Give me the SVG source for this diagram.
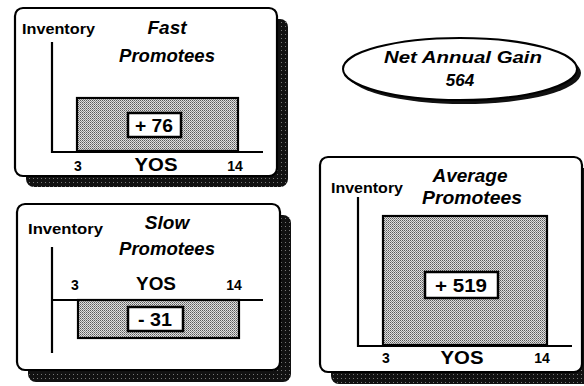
<svg xmlns="http://www.w3.org/2000/svg" width="584" height="386" viewBox="0 0 584 386">
<defs>
<pattern id="dots" width="2" height="2" patternUnits="userSpaceOnUse"><rect width="2" height="2" fill="#e0e0e0"/><rect width="1" height="1" fill="#5a5a5a"/><rect x="1" y="1" width="1" height="1" fill="#8a8a8a"/></pattern>
<pattern id="dark" width="4" height="4" patternUnits="userSpaceOnUse"><rect width="4" height="4" fill="#111"/><rect x="1" y="2" width="1" height="1" fill="#777"/></pattern>
</defs>
<style>
.frame{fill:#fff;stroke:#000;stroke-width:2.2}
.shadow{fill:url(#dark)}
.axis{stroke:#000;stroke-width:2.2;fill:none}
.bar{fill:url(#dots);stroke:#000;stroke-width:2.2}
.lbl{fill:#fff;stroke:#000;stroke-width:2.5}
text{font-family:"Liberation Sans",Arial,sans-serif;font-weight:bold;fill:#000}
.inv{font-size:15px}
.ttl{font-size:19px;font-style:italic;text-anchor:middle}
.num{font-size:14px;text-anchor:middle}
.yos{font-size:18px;text-anchor:middle}
.val{font-size:18px;text-anchor:middle}
</style>
<g id="fast">
<rect class="shadow" x="26" y="19" width="262" height="168" rx="8"/>
<rect class="frame" x="15" y="8" width="262" height="168" rx="8"/>
<text class="inv" x="22" y="34" textLength="73" lengthAdjust="spacingAndGlyphs">Inventory</text>
<text class="ttl" x="167" y="34">Fast</text>
<text class="ttl" x="167" y="62" textLength="96" lengthAdjust="spacingAndGlyphs">Promotees</text>
<rect class="bar" x="77" y="98" width="161" height="53"/>
<path class="axis" d="M52 42V152H263"/>
<rect class="lbl" x="128" y="113" width="53" height="24"/>
<text class="val" x="154" y="132" textLength="38" lengthAdjust="spacingAndGlyphs">+ 76</text>
<text class="num" x="78" y="171">3</text>
<text class="yos" x="156" y="171" textLength="43" lengthAdjust="spacingAndGlyphs">YOS</text>
<text class="num" x="235" y="171">14</text>
</g>
<g id="slow">
<rect class="shadow" x="28" y="215" width="263" height="167" rx="8"/>
<rect class="frame" x="17" y="204" width="263" height="166" rx="8"/>
<text class="inv" x="28" y="234" textLength="75" lengthAdjust="spacingAndGlyphs">Inventory</text>
<text class="ttl" x="167" y="229">Slow</text>
<text class="ttl" x="167" y="255" textLength="96" lengthAdjust="spacingAndGlyphs">Promotees</text>
<rect class="bar" x="78" y="300" width="161" height="38"/>
<path class="axis" d="M52 247V353M52 300H263"/>
<rect class="lbl" x="128" y="307" width="55" height="24"/>
<text class="val" x="155" y="326" textLength="34" lengthAdjust="spacingAndGlyphs">- 31</text>
<text class="num" x="75" y="290">3</text>
<text class="yos" x="156" y="290" textLength="40" lengthAdjust="spacingAndGlyphs">YOS</text>
<text class="num" x="234" y="290">14</text>
</g>
<g id="gain">
<ellipse cx="464" cy="73" rx="117" ry="31" fill="#111"/>
<ellipse cx="460" cy="69" rx="117" ry="31" fill="#fff" stroke="#000" stroke-width="2"/>
<text class="ttl" x="463" y="63" style="font-size:17px" textLength="158" lengthAdjust="spacingAndGlyphs">Net Annual Gain</text>
<text class="ttl" x="460" y="86" style="font-size:17px">564</text>
</g>
<g id="average">
<rect class="shadow" x="331" y="168" width="262" height="216" rx="8"/>
<rect class="frame" x="320" y="157" width="262" height="215" rx="8"/>
<text class="inv" x="331" y="193" textLength="72" lengthAdjust="spacingAndGlyphs">Inventory</text>
<text class="ttl" x="470" y="182">Average</text>
<text class="ttl" x="472" y="204" textLength="100" lengthAdjust="spacingAndGlyphs">Promotees</text>
<rect class="bar" x="383" y="216" width="164" height="129"/>
<path class="axis" d="M358 197V346H572"/>
<rect class="lbl" x="425" y="272" width="73" height="26"/>
<text class="val" x="461" y="292" textLength="52" lengthAdjust="spacingAndGlyphs">+ 519</text>
<text class="num" x="386" y="363">3</text>
<text class="yos" x="462" y="364" textLength="43" lengthAdjust="spacingAndGlyphs">YOS</text>
<text class="num" x="542" y="363">14</text>
</g>
</svg>
